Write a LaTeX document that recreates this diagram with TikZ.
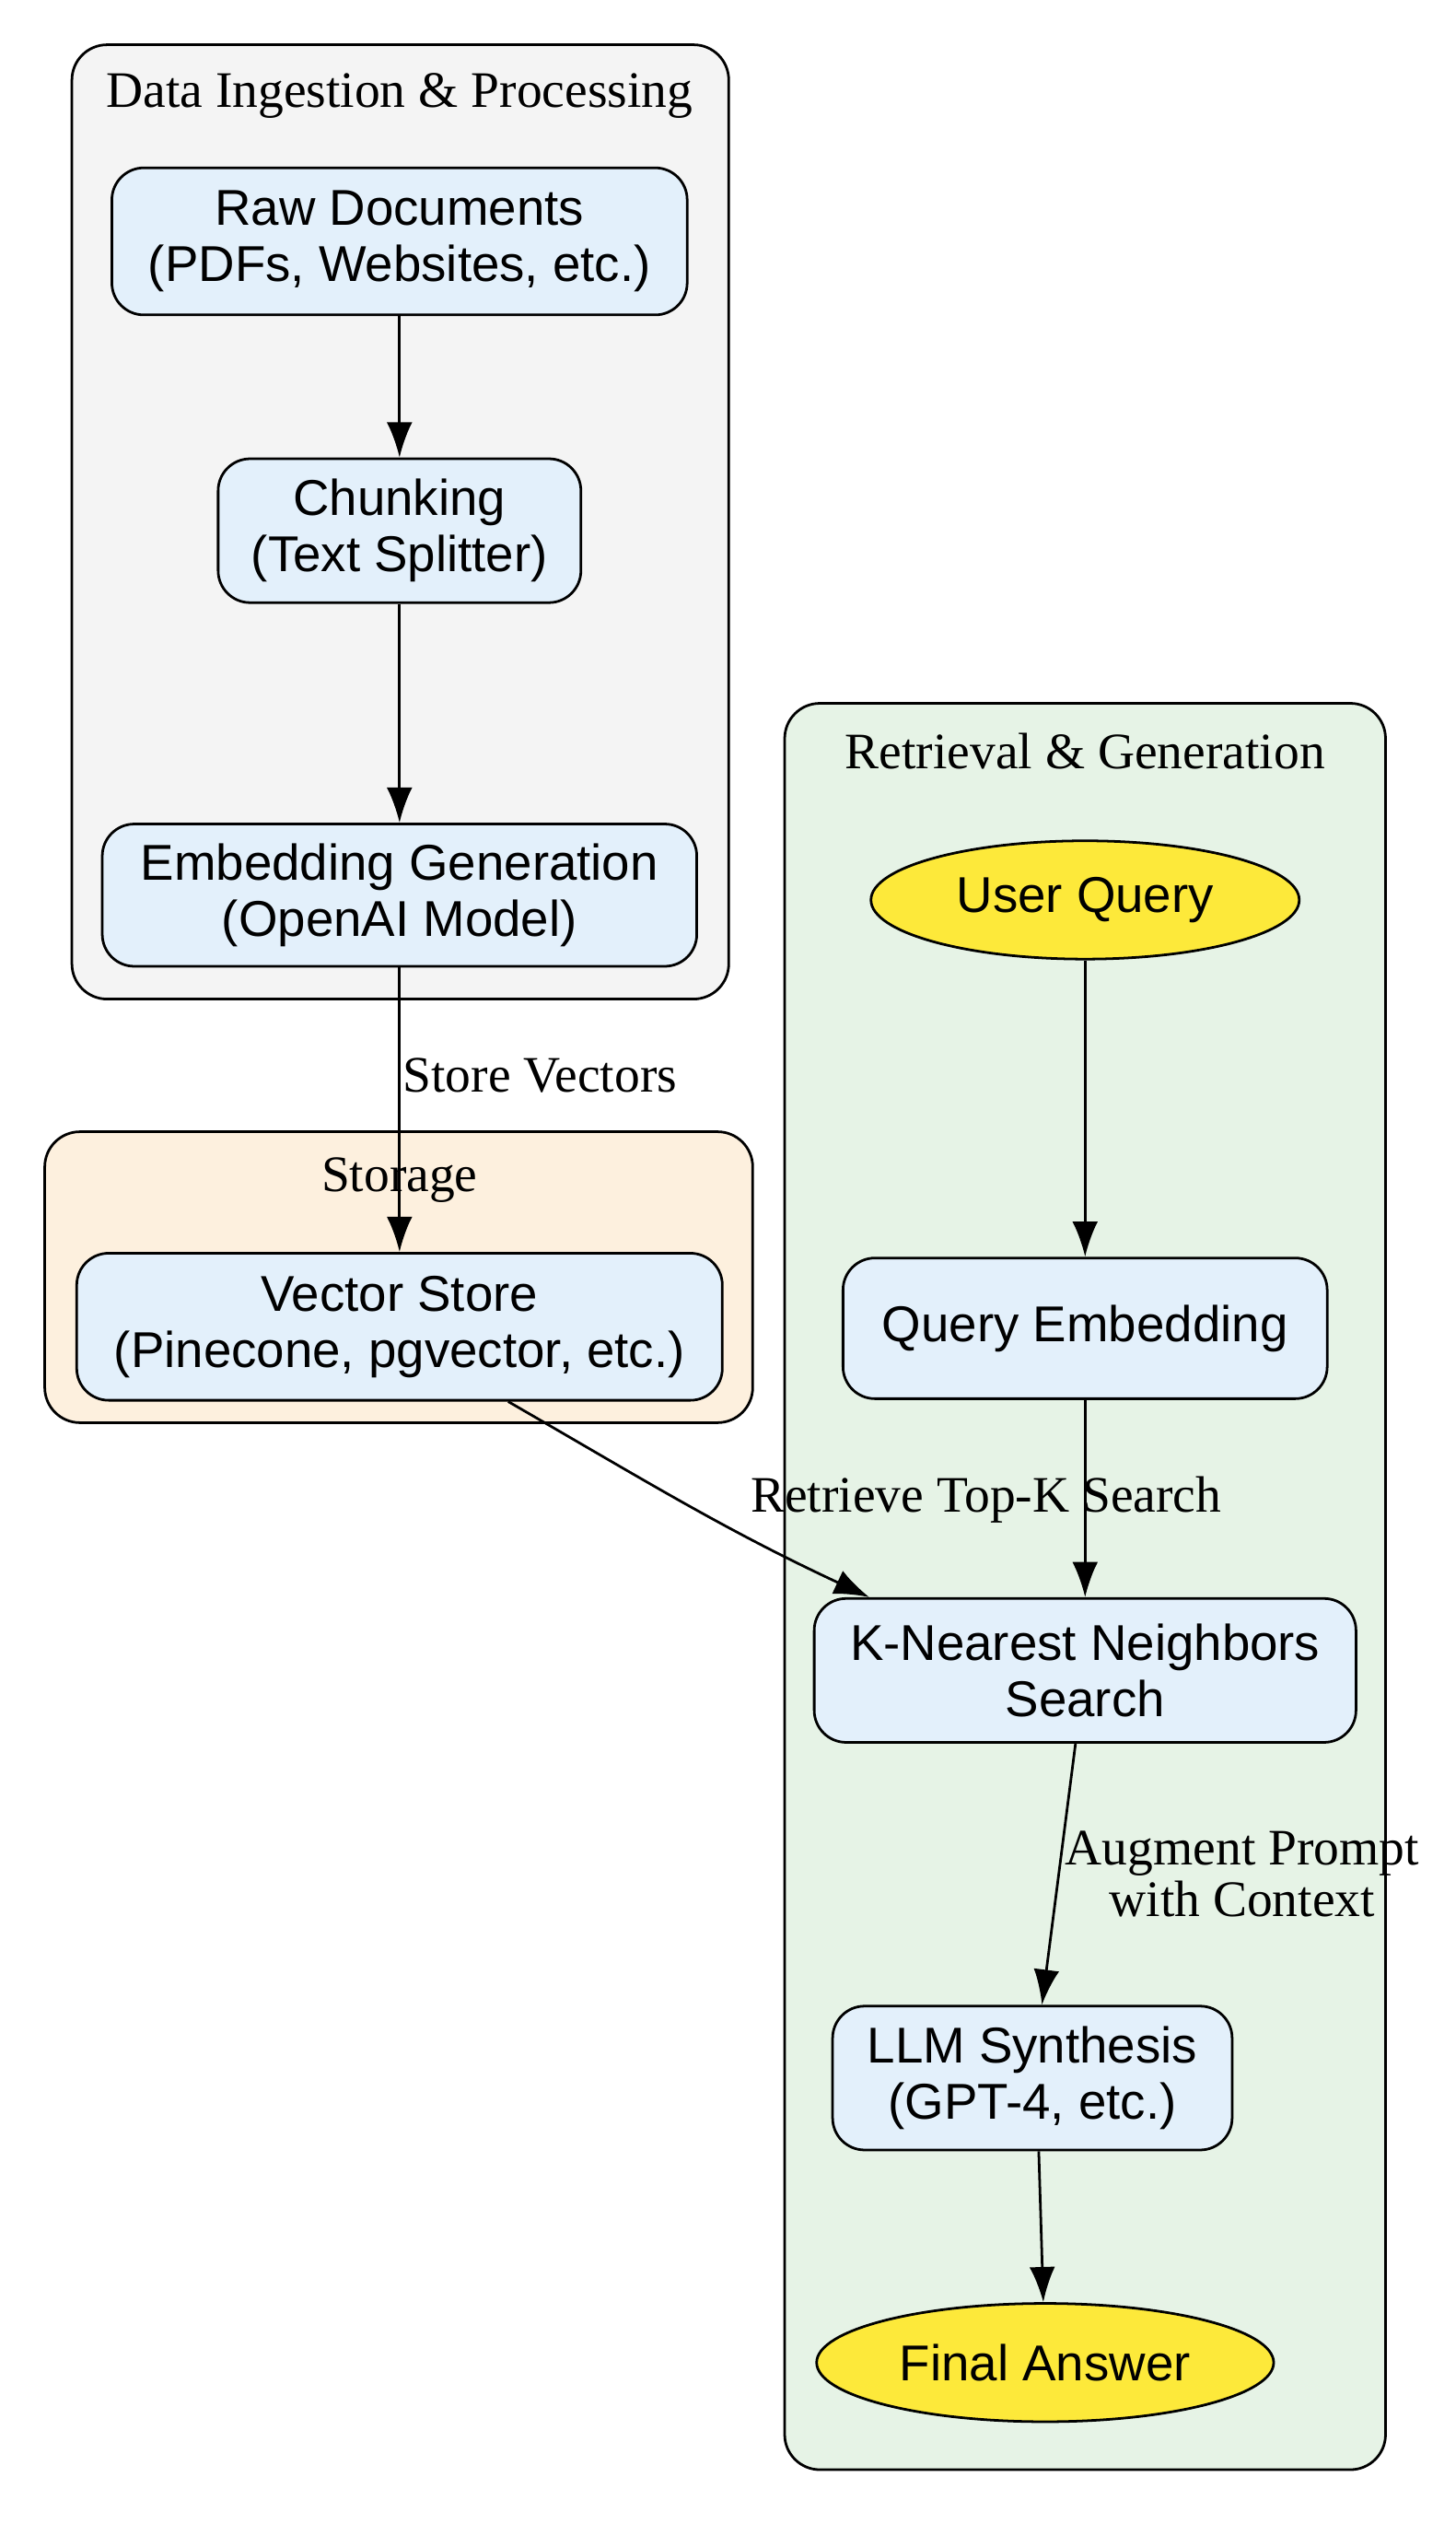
\documentclass[tikz,border=0pt]{standalone}
\usepackage{fontspec}
\setmainfont{Liberation Serif}
\newfontfamily\nodefont{Liberation Sans}
\usetikzlibrary{shapes.geometric,arrows.meta}
\definecolor{nodefill}{HTML}{E3F0FB}
\definecolor{ingest}{HTML}{F4F4F4}
\definecolor{store}{HTML}{FDF0DE}
\definecolor{retr}{HTML}{E6F3E6}
\definecolor{yel}{HTML}{FDE93A}
\tikzset{
  box/.style={draw,line width=1.6pt,rounded corners=20pt,fill=nodefill,align=center,
    font=\nodefont\fontsize{31.5}{35}\selectfont,inner sep=0pt},
  oval/.style={draw,line width=1.6pt,ellipse,fill=yel,inner sep=0pt,
    font=\nodefont\fontsize{31.5}{35}\selectfont},
  cluster/.style={draw,line width=1.6pt,rounded corners=22pt},
  ctitle/.style={font=\fontsize{32}{34}\selectfont},
  elabel/.style={font=\fontsize{32}{32}\selectfont,align=center},
  arr/.style={line width=1.6pt,-{Latex[length=22pt,width=16pt]}}
}
\begin{document}
\begin{tikzpicture}[x=1pt,y=-1pt]
\useasboundingbox (0,0) rectangle (911,1579);
\draw[cluster,fill=ingest] (45,28) rectangle (456,625);
\node[ctitle] (t1) at (250,60) {Data Ingestion \& Processing};
\draw[cluster,fill=store] (28,708) rectangle (471,890);
\node[ctitle] (t2) at (250,738) {Storage};
\draw[cluster,fill=retr] (491,440) rectangle (867,1545);
\node[ctitle] (t3) at (679,470) {Retrieval \& Generation};

\node[box,minimum width=360pt,minimum height=92pt] (raw) at (250,151) {Raw Documents\\(PDFs, Websites, etc.)};
\node[box,minimum width=227pt,minimum height=90pt] (chunk) at (250,332) {Chunking\\(Text Splitter)};
\node[box,minimum width=372pt,minimum height=89pt] (emb) at (250,560) {Embedding Generation\\(OpenAI Model)};
\node[box,minimum width=404pt,minimum height=92pt] (vs) at (250,830) {Vector Store\\(Pinecone, pgvector, etc.)};
\node[oval,minimum width=268pt,minimum height=74pt] (uq) at (679,563) {User Query};
\node[box,minimum width=303pt,minimum height=88pt] (qe) at (679,831) {Query Embedding};
\node[box,minimum width=339pt,minimum height=90pt] (knn) at (679,1045) {K-Nearest Neighbors\\Search};
\node[box,minimum width=250pt,minimum height=90pt] (llm) at (646,1300) {LLM Synthesis\\(GPT-4, etc.)};
\node[oval,minimum width=286pt,minimum height=74pt] (fa) at (654,1478) {Final Answer};

\draw[arr] (raw) -- (chunk);
\draw[arr] (chunk) -- (emb);
\draw[arr] (emb) -- node[elabel,right,xshift=-2pt,pos=0.38] (l1) {Store Vectors} (vs);
\draw[arr] (uq) -- (qe);
\draw[arr] (qe) -- (knn);
\draw[arr] ([xshift=68pt]vs.south) to[out=-30,in=155] ([xshift=-135pt]knn.north);
\node[elabel] (l2) at (617,938) {Retrieve Top-K Search};
\draw[arr] ([xshift=-6pt]knn.south) -- node[elabel,right,xshift=0pt] (l3) {Augment Prompt\\with Context} ([xshift=6pt]llm.north);
\draw[arr] ([xshift=4pt]llm.south) -- (fa);
\end{tikzpicture}
\end{document}
